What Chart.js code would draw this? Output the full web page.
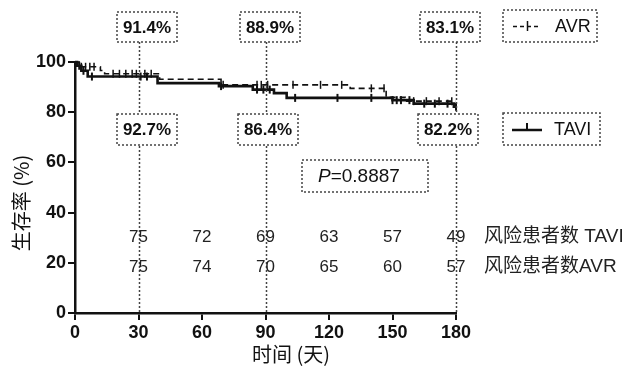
<!DOCTYPE html>
<html>
<head>
<meta charset="utf-8">
<script src="https://cdn.jsdelivr.net/npm/chart.js@4"></script>
<style>
  html, body { margin: 0; padding: 0; background: #fff; }
  #wrap { width: 625px; height: 371px; position: relative; }
</style>
</head>
<body>
<div id="wrap"><canvas id="kmChart"></canvas></div>
<script>
// survival curves (days, %)
const tavDays = [0, 1, 3, 6, 39, 68, 84, 94, 100, 150, 160, 179, 180];
const tavSurv = [100, 98.5, 96.5, 94.2, 91.6, 90.4, 89, 87.6, 85.7, 84.8, 83.4, 82.2, 82.2];
const avrDays = [0, 2, 12, 14, 40, 69, 130, 147, 156, 180];
const avrSurv = [100, 98.1, 96.6, 95.3, 93.1, 90.9, 89.5, 85.9, 84.4, 84.4];

// censored observations (days)
const tavCensor = [2, 4, 8, 31, 34, 69, 86, 89, 92, 104, 124, 140, 150, 152, 154, 158, 165, 170, 176, 180];
const avrCensor = [3, 5, 7, 9, 18, 21, 24, 27, 29, 33, 36, 70, 86, 88, 91, 103, 116, 126, 140, 146, 160, 166, 172, 178];

// numbers at risk
const riskDays = [30, 60, 90, 120, 150, 180];
const riskTAVI = [75, 72, 69, 63, 57, 49];
const riskAVR = [75, 74, 70, 65, 60, 57];

// landmark survival estimates
const markDays = [30, 90, 180];
const avrPct = ['91.4%', '88.9%', '83.1%'];
const tavPct = ['92.7%', '86.4%', '82.2%'];
const pText = '=0.8887';

const ink = '#111';
const dotted = '#444';

function stepValue(days, surv, t) {
    let v = surv[0];
    for (let i = 0; i < days.length; i++) {
        if (days[i] <= t) v = surv[i];
    }
    return v;
}

function toPoints(days, surv) {
    return days.map((d, i) => ({ x: d, y: surv[i] }));
}

function censorPoints(times, days, surv) {
    return times.map(t => ({ x: t, y: stepValue(days, surv, t) }));
}

function dottedBox(ctx, x, y, w, h) {
    ctx.save();
    ctx.fillStyle = '#fff';
    ctx.fillRect(x, y, w, h);
    ctx.strokeStyle = dotted;
    ctx.lineWidth = 1.5;
    ctx.setLineDash([2, 2]);
    ctx.strokeRect(x, y, w, h);
    ctx.restore();
}

const annotations = {
    id: 'annotations',
    afterDraw(chart) {
        const ctx = chart.ctx;
        const xs = chart.scales.x;
        const area = chart.chartArea;

        // dotted landmark lines
        ctx.save();
        ctx.strokeStyle = dotted;
        ctx.lineWidth = 1.5;
        ctx.setLineDash([2, 2]);
        markDays.forEach(d => {
            const px = Math.round(xs.getPixelForValue(d)) + 0.5;
            ctx.beginPath();
            ctx.moveTo(px, 42);
            ctx.lineTo(px, area.bottom);
            ctx.stroke();
        });
        ctx.restore();

        // percentage boxes
        const boxCenters = [147, 270, 450];
        const boxCentersLow = [147, 268, 448];
        ctx.save();
        ctx.font = 'bold 17px "Liberation Sans", Arial, sans-serif';
        ctx.textAlign = 'center';
        ctx.textBaseline = 'middle';
        markDays.forEach((d, i) => {
            dottedBox(ctx, boxCenters[i] - 30, 12, 60, 30);
            ctx.fillStyle = ink;
            ctx.fillText(avrPct[i], boxCenters[i], 28);
            dottedBox(ctx, boxCentersLow[i] - 30, 114, 60, 31);
            ctx.fillStyle = ink;
            ctx.fillText(tavPct[i], boxCentersLow[i], 130);
        });
        ctx.restore();

        // legend
        ctx.save();
        dottedBox(ctx, 503, 10, 94, 32);
        dottedBox(ctx, 503, 113, 97, 32);
        ctx.strokeStyle = ink;
        ctx.lineWidth = 1.5;
        ctx.setLineDash([4, 3]);
        ctx.beginPath();
        ctx.moveTo(513, 26.5);
        ctx.lineTo(541, 26.5);
        ctx.stroke();
        ctx.setLineDash([]);
        ctx.beginPath();
        ctx.moveTo(527.5, 21);
        ctx.lineTo(527.5, 31);
        ctx.stroke();
        ctx.lineWidth = 2.5;
        ctx.beginPath();
        ctx.moveTo(512, 130);
        ctx.lineTo(542, 130);
        ctx.stroke();
        ctx.lineWidth = 2;
        ctx.beginPath();
        ctx.moveTo(527, 123);
        ctx.lineTo(527, 130);
        ctx.stroke();
        ctx.fillStyle = ink;
        ctx.font = '18px "Liberation Sans", Arial, sans-serif';
        ctx.textAlign = 'left';
        ctx.textBaseline = 'middle';
        ctx.fillText('AVR', 555, 27);
        ctx.fillText('TAVI', 554, 130);
        ctx.restore();

        // p value
        ctx.save();
        dottedBox(ctx, 302, 160, 126, 32);
        ctx.fillStyle = ink;
        ctx.textBaseline = 'middle';
        ctx.textAlign = 'left';
        ctx.font = 'italic 19px "Liberation Sans", Arial, sans-serif';
        ctx.fillText('P', 318, 177);
        const pw = ctx.measureText('P').width;
        ctx.font = '19px "Liberation Sans", Arial, sans-serif';
        ctx.fillText(pText, 318 + pw, 177);
        ctx.restore();

        // numbers at risk
        ctx.save();
        ctx.fillStyle = '#222';
        ctx.font = '17px "Liberation Sans", Arial, sans-serif';
        ctx.textAlign = 'center';
        ctx.textBaseline = 'middle';
        riskDays.forEach((d, i) => {
            const px = xs.getPixelForValue(d);
            ctx.fillText(String(riskTAVI[i]), px, 237);
            ctx.fillText(String(riskAVR[i]), px, 267);
        });
        ctx.textAlign = 'left';
        ctx.font = '19px "Liberation Sans", "Noto Sans CJK SC", sans-serif';
        ctx.fillText('风险患者数 TAVI', 484, 237);
        ctx.fillText('风险患者数AVR', 484, 267);
        ctx.restore();

        // axis titles
        ctx.save();
        ctx.fillStyle = ink;
        ctx.font = '20px "Noto Sans CJK SC", sans-serif';
        ctx.textAlign = 'center';
        ctx.textBaseline = 'middle';
        ctx.fillText('时间 (天)', 291, 354);
        ctx.translate(21, 203);
        ctx.rotate(-Math.PI / 2);
        ctx.fillText('生存率 (%)', 0, 0);
        ctx.restore();
    }
};

const tickFont = { family: '"Liberation Sans", Arial, sans-serif', size: 18, weight: 'bold' };

new Chart(document.getElementById('kmChart'), {
    type: 'line',
    data: {
        datasets: [
            {
                label: 'AVR',
                data: toPoints(avrDays, avrSurv),
                stepped: true,
                borderColor: ink,
                borderWidth: 1.6,
                borderDash: [6, 4],
                pointRadius: 0,
                clip: false
            },
            {
                label: 'TAVI',
                data: toPoints(tavDays, tavSurv),
                stepped: true,
                borderColor: ink,
                borderWidth: 2.6,
                pointRadius: 0,
                clip: false
            },
            {
                label: 'AVR censored',
                data: censorPoints(avrCensor, avrDays, avrSurv),
                showLine: false,
                pointStyle: 'line',
                rotation: 90,
                pointRadius: 4,
                pointBorderWidth: 1.5,
                pointBorderColor: ink,
                clip: false
            },
            {
                label: 'TAVI censored',
                data: censorPoints(tavCensor, tavDays, tavSurv),
                showLine: false,
                pointStyle: 'line',
                rotation: 90,
                pointRadius: 4,
                pointBorderWidth: 2,
                pointBorderColor: ink,
                clip: false
            }
        ]
    },
    options: {
        responsive: true,
        maintainAspectRatio: false,
        animation: false,
        layout: { padding: { left: 0, right: 169, top: 62, bottom: 0 } },
        plugins: {
            legend: { display: false },
            tooltip: { enabled: false }
        },
        scales: {
            x: {
                type: 'linear',
                min: 0,
                max: 180,
                ticks: { stepSize: 30, color: ink, font: tickFont, padding: 2 },
                grid: { drawOnChartArea: false, tickLength: 7, color: ink, lineWidth: 2 },
                border: { color: ink, width: 2.5 },
                afterFit: function(scale) { scale.height = 58; }
            },
            y: {
                min: 0,
                max: 100,
                ticks: { stepSize: 20, color: ink, font: tickFont, padding: 2 },
                grid: { drawOnChartArea: false, tickLength: 7, color: ink, lineWidth: 2 },
                border: { color: ink, width: 2.5 },
                afterFit: function(scale) { scale.width = 75; }
            }
        }
    },
    plugins: [annotations]
});
</script>
</body>
</html>
